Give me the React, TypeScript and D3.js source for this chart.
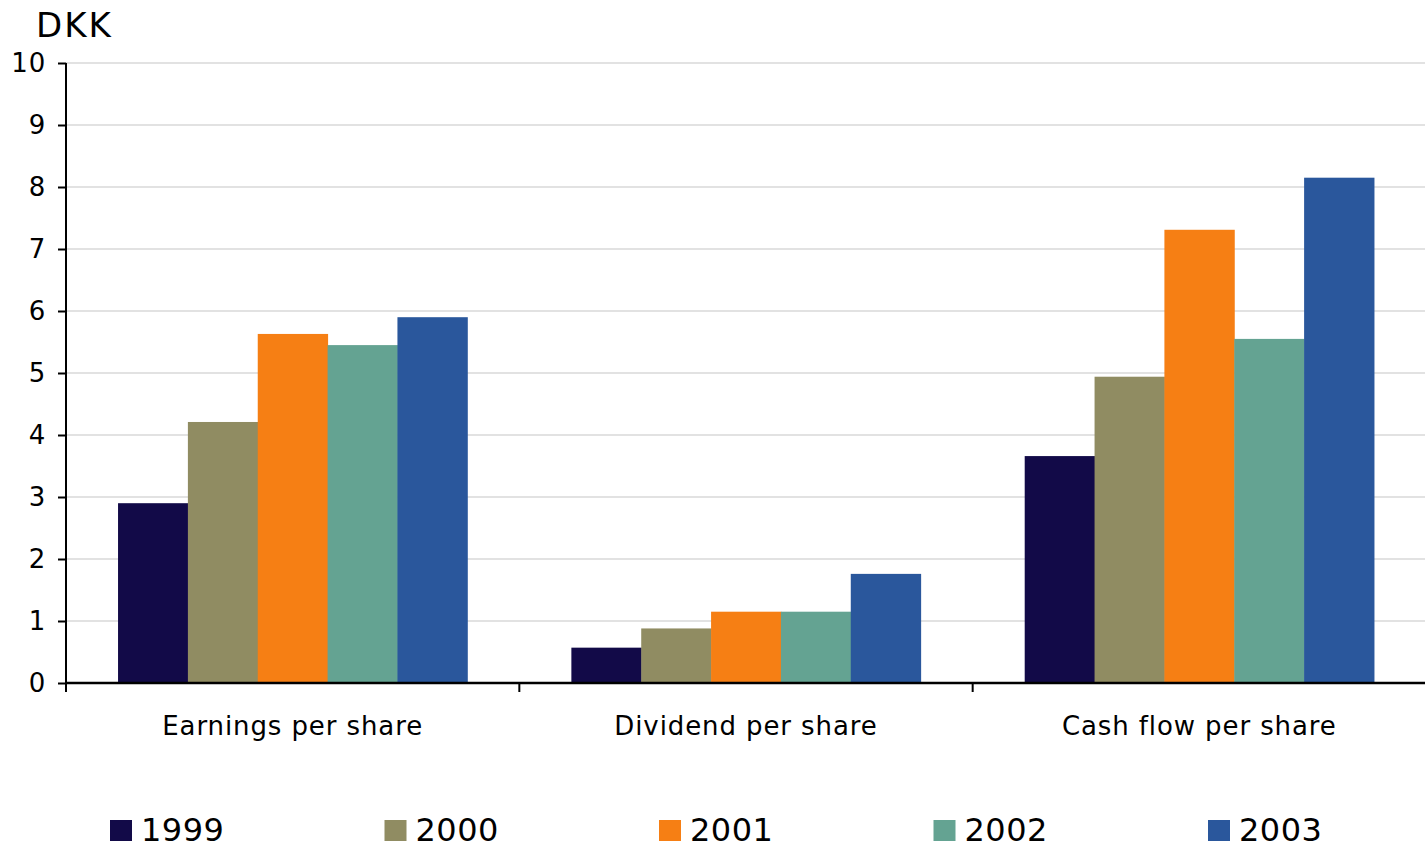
import * as d3 from "d3";
import { useEffect, useRef } from "react";

const categories = ["Earnings per share", "Dividend per share", "Cash flow per share"];
const years = ["1999", "2000", "2001", "2002", "2003"];
const values1999 = [2.9, 0.57, 3.66];
const values2000 = [4.21, 0.88, 4.94];
const values2001 = [5.63, 1.15, 7.31];
const values2002 = [5.45, 1.15, 5.55];
const values2003 = [5.9, 1.76, 8.15];
const yTicks = [0, 1, 2, 3, 4, 5, 6, 7, 8, 9, 10];
const colors = ["#120a48", "#908c62", "#f67f14", "#64a392", "#2a579c"];

export default function App() {
  const svgRef = useRef<SVGSVGElement | null>(null);

  useEffect(() => {
    document.body.style.margin = "0";
    const width = 1425;
    const height = 848;
    const margin = { top: 63, right: 0, bottom: 165, left: 66 };
    const font = "'DejaVu Sans', Verdana, sans-serif";

    const series = [values1999, values2000, values2001, values2002, values2003];

    const svg = d3.select(svgRef.current);
    svg.selectAll("*").remove();
    svg.attr("width", width).attr("height", height);

    const x0 = d3
      .scaleBand()
      .domain(categories)
      .range([margin.left, 1426])
      .padding(0);

    const x1 = d3
      .scaleBand()
      .domain(years)
      .range([0, x0.bandwidth()])
      .paddingInner(0)
      .paddingOuter(0.745);

    const y = d3
      .scaleLinear()
      .domain([0, 10])
      .range([height - margin.bottom, margin.top]);

    // gridlines
    svg
      .append("g")
      .selectAll("line")
      .data(yTicks.slice(1))
      .join("line")
      .attr("x1", margin.left)
      .attr("x2", width)
      .attr("y1", (d) => y(d))
      .attr("y2", (d) => y(d))
      .attr("stroke", "#d9d9d9")
      .attr("stroke-width", 1.5);

    // bars
    const groups = svg
      .append("g")
      .selectAll("g")
      .data(categories)
      .join("g")
      .attr("transform", (d) => `translate(${x0(d)},0)`);

    groups
      .selectAll("rect")
      .data((_, i) => years.map((yr, j) => ({ yr, v: series[j][i], c: colors[j] })))
      .join("rect")
      .attr("x", (d) => x1(d.yr)!)
      .attr("width", x1.bandwidth() + 0.5)
      .attr("y", (d) => y(d.v))
      .attr("height", (d) => y(0) - y(d.v))
      .attr("fill", (d) => d.c);

    // y axis
    const yAxis = svg
      .append("g")
      .attr("transform", `translate(${margin.left},0)`)
      .call(d3.axisLeft(y).tickValues(yTicks).tickSize(8).tickPadding(12).tickSizeOuter(0));
    yAxis.select(".domain").remove();
    yAxis.selectAll("line").attr("stroke", "#000").attr("stroke-width", 2);
    yAxis
      .selectAll("text")
      .attr("font-family", font)
      .attr("font-size", 26)
      .attr("letter-spacing", 0.8)
      .attr("fill", "#000");
    svg
      .append("line")
      .attr("x1", margin.left)
      .attr("x2", margin.left)
      .attr("y1", y(10))
      .attr("y2", y(0) + 9)
      .attr("stroke", "#000")
      .attr("stroke-width", 2);

    // x axis
    svg
      .append("line")
      .attr("x1", margin.left)
      .attr("x2", width)
      .attr("y1", y(0))
      .attr("y2", y(0))
      .attr("stroke", "#000")
      .attr("stroke-width", 2.5);
    svg
      .append("g")
      .selectAll("line")
      .data(categories)
      .join("line")
      .attr("x1", (d) => x0(d)!)
      .attr("x2", (d) => x0(d)!)
      .attr("y1", y(0))
      .attr("y2", y(0) + 9)
      .attr("stroke", "#000")
      .attr("stroke-width", 2);
    svg
      .append("g")
      .selectAll("text")
      .data(categories)
      .join("text")
      .attr("x", (d) => x0(d)! + x0.bandwidth() / 2)
      .attr("y", 735)
      .attr("text-anchor", "middle")
      .attr("font-family", font)
      .attr("font-size", 26)
      .attr("letter-spacing", 0.9)
      .attr("fill", "#000")
      .text((d) => d);

    // unit label
    svg
      .append("text")
      .attr("x", 36)
      .attr("y", 37)
      .attr("font-family", font)
      .attr("font-size", 34)
      .attr("letter-spacing", 2)
      .attr("fill", "#000")
      .text("DKK");

    // legend
    const legendX = d3.scalePoint().domain(years).range([110, 1208]);
    const legend = svg
      .append("g")
      .selectAll("g")
      .data(years)
      .join("g")
      .attr("transform", (d) => `translate(${legendX(d)},0)`);
    legend
      .append("rect")
      .attr("x", 0)
      .attr("y", 820)
      .attr("width", 22)
      .attr("height", 21)
      .attr("fill", (_, i) => colors[i]);
    legend
      .append("text")
      .attr("x", 31)
      .attr("y", 841)
      .attr("font-family", font)
      .attr("font-size", 32)
      .attr("letter-spacing", 0.5)
      .attr("fill", "#000")
      .text((d) => d);
  }, []);

  return <svg ref={svgRef} style={{ display: "block" }}></svg>;
}
